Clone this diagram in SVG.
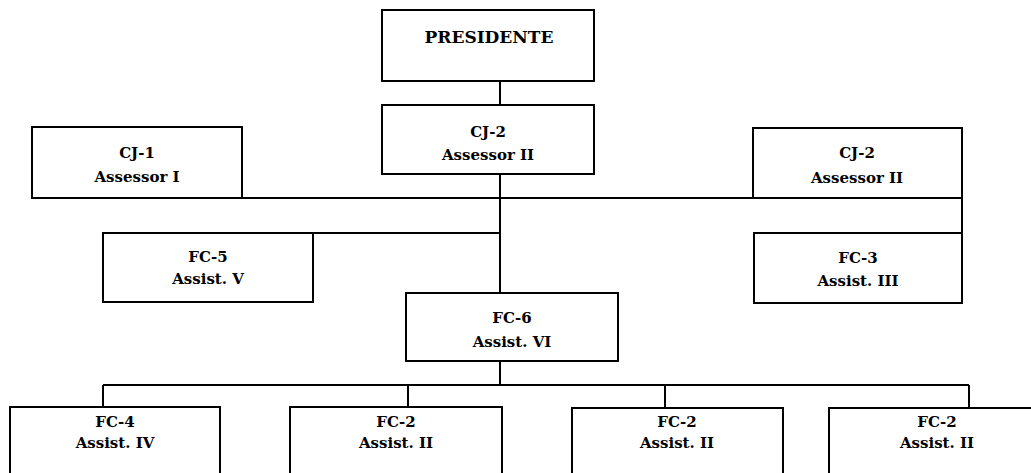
<svg xmlns="http://www.w3.org/2000/svg" width="1031" height="473" viewBox="0 0 1031 473">
<style>
.box{fill:#fff;stroke:#000;stroke-width:2}
.t{font-family:"DejaVu Serif","Liberation Serif",serif;font-weight:bold;font-size:15px;fill:#000;text-anchor:middle}
.big{font-size:17px}
.ln{stroke:#000;stroke-width:2;fill:none}
</style>
<rect width="1031" height="473" fill="#fff"/>
<g id="connectors">
<path class="ln" d="M500,81V105M500,174V293M242,198H753M313,233H500M962,198V233M500,361V385M103,385H969M103,385V407M408,385V407M665,385V408M969,385V408M962,408H1031"/>
</g>
<g id="presidente"><rect class="box" x="382" y="10" width="212" height="71"/><text class="t big" x="489" y="43">PRESIDENTE</text></g>
<g id="cj2-center"><rect class="box" x="382" y="105" width="212" height="69"/><text class="t" x="488" y="137">CJ-2</text><text class="t" x="488" y="160">Assessor II</text></g>
<g id="cj1"><rect class="box" x="32" y="127" width="210" height="71"/><text class="t" x="137" y="158">CJ-1</text><text class="t" x="137" y="182">Assessor I</text></g>
<g id="cj2-right"><rect class="box" x="753" y="128" width="209" height="70"/><text class="t" x="857" y="158">CJ-2</text><text class="t" x="857" y="183">Assessor II</text></g>
<g id="fc5"><rect class="box" x="103" y="233" width="210" height="69"/><text class="t" x="208" y="262">FC-5</text><text class="t" x="208" y="284">Assist. V</text></g>
<g id="fc3"><rect class="box" x="754" y="233" width="208" height="70"/><text class="t" x="858" y="263">FC-3</text><text class="t" x="858" y="286">Assist. III</text></g>
<g id="fc6"><rect class="box" x="406" y="293" width="212" height="68"/><text class="t" x="512" y="323">FC-6</text><text class="t" x="512" y="347">Assist. VI</text></g>
<g id="fc4"><rect class="box" x="10" y="407" width="210" height="80"/><text class="t" x="115" y="427">FC-4</text><text class="t" x="115" y="448">Assist. IV</text></g>
<g id="fc2-a"><rect class="box" x="290" y="407" width="212" height="80"/><text class="t" x="396" y="427">FC-2</text><text class="t" x="396" y="448">Assist. II</text></g>
<g id="fc2-b"><rect class="box" x="572" y="408" width="211" height="80"/><text class="t" x="677" y="427">FC-2</text><text class="t" x="677" y="448">Assist. II</text></g>
<g id="fc2-c"><rect class="box" x="829" y="408" width="216" height="80"/><text class="t" x="937" y="427">FC-2</text><text class="t" x="937" y="448">Assist. II</text></g>
</svg>
